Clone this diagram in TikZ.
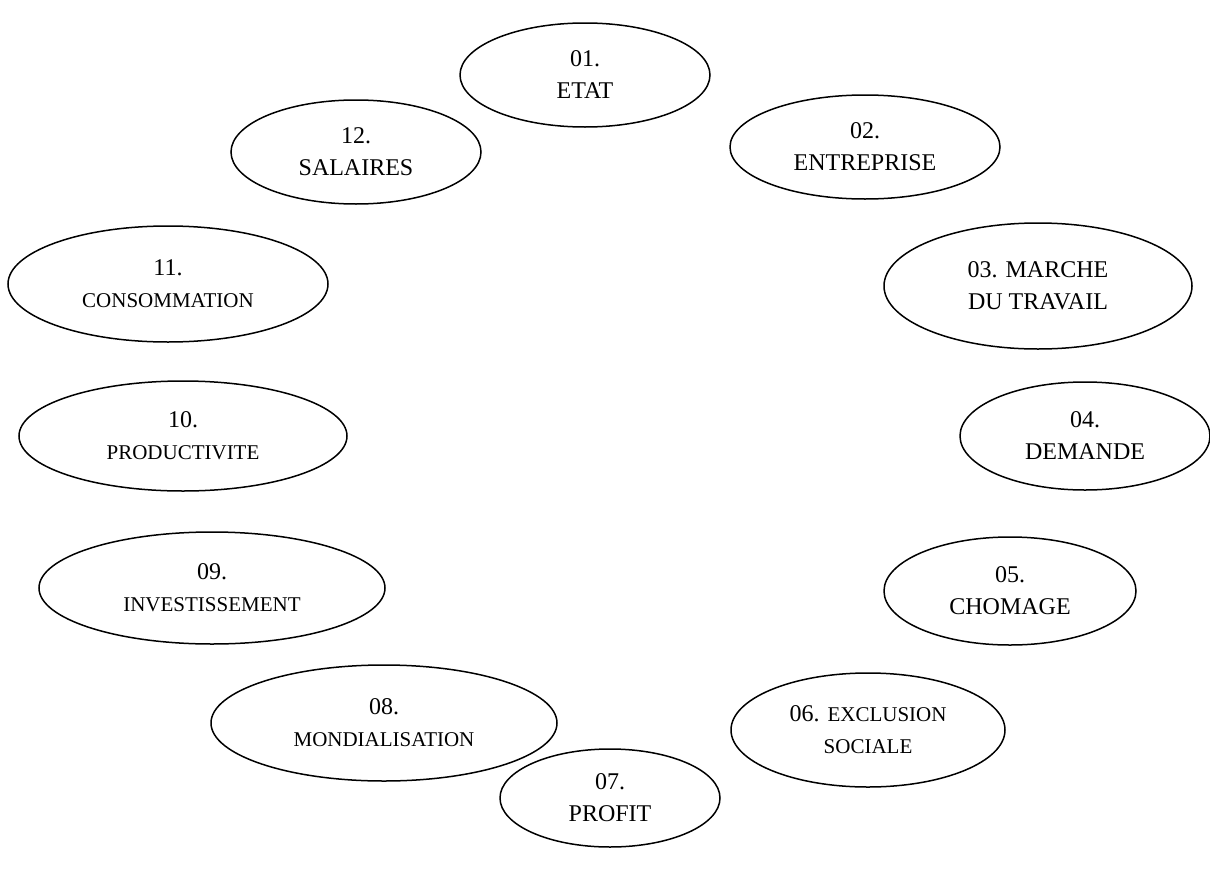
\documentclass[tikz,border=0pt]{standalone}
\usepackage{fontspec}
\setmainfont{Liberation Serif}
\usetikzlibrary{shapes.geometric}
\newcommand\bigtxt{\fontsize{24}{32}\selectfont}
\newcommand\smtxt{\fontsize{21}{32}\selectfont}
\tikzset{
  oval/.style={draw=black, line width=1.5pt, ellipse, inner sep=0pt,
    align=center, font=\bigtxt},
}
\begin{document}
\begin{tikzpicture}[x=1pt,y=-1pt]
\useasboundingbox (0,0) rectangle (1210,894);
\node[oval, minimum width=250, minimum height=104] (e01) at (585,75) {01.\\ETAT};
\node[oval, minimum width=270, minimum height=104] (e02) at (865,147) {02.\\ENTREPRISE};
\node[oval, minimum width=308, minimum height=126] (e03) at (1038,286) {03. MARCHE\\DU TRAVAIL};
\node[oval, minimum width=250, minimum height=108] (e04) at (1085,436) {04.\\DEMANDE};
\node[oval, minimum width=252, minimum height=108] (e05) at (1010,591) {05.\\CHOMAGE};
\node[oval, minimum width=274, minimum height=114] (e06) at (868,730) {06. {\smtxt EXCLUSION}\\{\smtxt SOCIALE}};
\node[oval, minimum width=220, minimum height=98] (e07) at (610,798) {07.\\PROFIT};
\node[oval, minimum width=346, minimum height=116] (e08) at (384,723) {08.\\{\smtxt MONDIALISATION}};
\node[oval, minimum width=346, minimum height=112] (e09) at (212,588) {09.\\{\smtxt INVESTISSEMENT}};
\node[oval, minimum width=328, minimum height=110] (e10) at (183,436) {10.\\{\smtxt PRODUCTIVITE}};
\node[oval, minimum width=320, minimum height=116] (e11) at (168,284) {11.\\{\smtxt CONSOMMATION}};
\node[oval, minimum width=250, minimum height=104] (e12) at (356,152) {12.\\SALAIRES};
\end{tikzpicture}
\end{document}
